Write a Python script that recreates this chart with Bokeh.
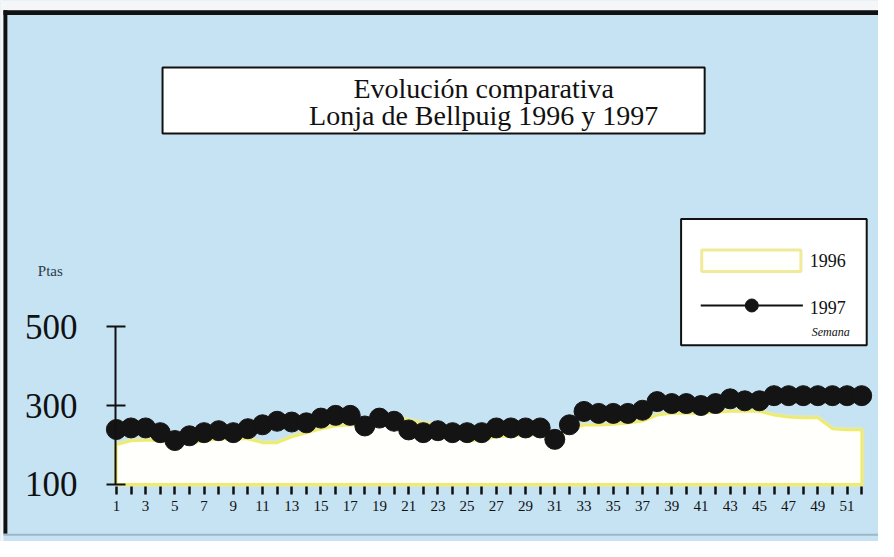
import numpy as np
from bokeh.plotting import figure
from bokeh.models import (Range1d, FixedTicker, LinearAxis, Label)
from bokeh.embed import file_html
from bokeh.resources import INLINE

# ---- data ----
weeks = list(range(1, 53))
x_tick_labels = {w: (str(w) if w % 2 == 1 else "") for w in weeks}
y_ticks = [100, 300, 500]
prices_1996 = [200, 210, 212, 210, 205, 205, 210, 215, 215, 215,
               205, 205, 220, 230, 240, 248, 250, 255, 275, 272,
               262, 255, 250, 240, 210, 212, 220, 222, 225, 225,
               215, 240, 250, 250, 252, 255, 260, 275, 280, 280,
               280, 282, 285, 285, 285, 275, 270, 268, 268, 240,
               238, 238]
prices_1997 = [239, 243, 243, 231, 211, 223, 231, 236, 231, 241,
               251, 260, 258, 256, 268, 275, 275, 248, 268, 260,
               238, 231, 236, 231, 231, 231, 243, 243, 243, 243,
               214, 251, 285, 280, 280, 280, 288, 310, 305, 305,
               300, 305, 317, 312, 312, 325, 325, 325, 325, 325,
               325, 325]
title_lines = ["Evolución comparativa", "Lonja de Bellpuig 1996 y 1997"]
series_names = ["1996", "1997"]
unit_label = "Ptas"
x_name = "Semana"

# ---- layout helpers (reference pixel -> data) ----
FIG_W, FIG_H = 878, 541
REF_W, REF_H = 894, 557
PX_X = 14.88          # reference px per week
PX_Y = 0.405          # reference px per Pta
X0_REF, Y0_REF = 118, 498   # reference pixel of week 1 / 100 Ptas


def dx(rx):
    return 1 + (rx - X0_REF) / PX_X


def dy(ry):
    return 100 + (Y0_REF - ry) / PX_Y


BG = "#c6e3f4"
INK = "#111111"
SERIF = "Liberation Serif"

p = figure(width=FIG_W, height=FIG_H, output_backend="svg", toolbar_location=None,
           x_range=Range1d(dx(0), dx(REF_W)),
           y_range=Range1d(dy(REF_H), dy(0)),
           x_axis_location=None, y_axis_location=None,
           min_border=0)
p.background_fill_color = BG
p.border_fill_color = BG
p.outline_line_color = None
p.grid.visible = False

# ---- scan surround and outer frame ----
p.quad(left=[dx(0)], right=[dx(REF_W)], top=[dy(0)], bottom=[dy(10)],
       fill_color="#f4f6f7", line_color=None)
p.quad(left=[dx(0)], right=[dx(3)], top=[dy(0)], bottom=[dy(REF_H)],
       fill_color="#f4f6f7", line_color=None)
p.quad(left=[dx(3)], right=[dx(REF_W)], top=[dy(10)], bottom=[dy(15)],
       fill_color=INK, line_color=None)
p.quad(left=[dx(3)], right=[dx(7)], top=[dy(10)], bottom=[dy(549)],
       fill_color=INK, line_color=None)
p.quad(left=[dx(3)], right=[dx(REF_W)], top=[dy(549)], bottom=[dy(551)],
       fill_color="#9fb6c4", line_color=None)

# ---- axes ----
xaxis = LinearAxis(ticker=FixedTicker(ticks=weeks),
                   major_label_overrides=x_tick_labels,
                   fixed_location=dy(500))
xaxis.axis_line_color = None
xaxis.major_tick_in = 0
xaxis.major_tick_out = 8
xaxis.major_tick_line_width = 2.5
xaxis.major_tick_line_color = INK
xaxis.minor_tick_line_color = None
xaxis.major_label_standoff = 7
xaxis.major_label_text_font = SERIF
xaxis.major_label_text_font_size = "15px"
xaxis.major_label_text_color = INK
p.add_layout(xaxis, "below")

yaxis = LinearAxis(ticker=FixedTicker(ticks=y_ticks), bounds=(100, 500),
                   fixed_location=dx(117))
yaxis.axis_line_width = 2
yaxis.axis_line_color = INK
yaxis.major_tick_in = 10
yaxis.major_tick_out = 9
yaxis.major_tick_line_width = 2
yaxis.major_tick_line_color = INK
yaxis.minor_tick_line_color = None
yaxis.major_label_standoff = 29
yaxis.major_label_text_font = SERIF
yaxis.major_label_text_font_size = "35px"
yaxis.major_label_text_color = INK
p.add_layout(yaxis, "left")

# ---- 1996 area ----
xs = [weeks[0]] + weeks + [weeks[-1]]
ys = [100] + prices_1996 + [100]
p.patch(xs, ys, fill_color="#fffff8", line_color="#f3f07a", line_width=6, line_alpha=0.45)
p.patch(xs, ys, fill_color="#fffffb", line_color="#f0ec6a", line_width=2.5)

# ---- 1997 line + dots ----
p.line(weeks, prices_1997, line_color=INK, line_width=2)
p.scatter(weeks, prices_1997, size=20, fill_color="#141414", line_color="#141414")

# ---- title box ----
p.quad(left=[dx(165)], right=[dx(717)], top=[dy(69)], bottom=[dy(137)],
       fill_color="white", line_color=INK, line_width=2)
for i, t in enumerate(title_lines):
    p.add_layout(Label(x=dx(492), y=dy(91 + 27 * i), text=t, text_align="center",
                       text_baseline="middle", text_font=SERIF, text_font_size="28px",
                       text_color=INK))

# ---- Ptas label ----
p.add_layout(Label(x=dx(38), y=dy(278), text=unit_label, text_align="left",
                   text_baseline="middle", text_font=SERIF, text_font_size="15px",
                   text_color="#2e3b48"))

# ---- legend ----
p.quad(left=[dx(693)], right=[dx(882)], top=[dy(225)], bottom=[dy(355)],
       fill_color="white", line_color=INK, line_width=2)
p.quad(left=[dx(714)], right=[dx(815)], top=[dy(257)], bottom=[dy(279)],
       fill_color="#fffffb", line_color="#efeb9a", line_width=3)
p.line([dx(713), dx(817)], [dy(314), dy(314)], line_color=INK, line_width=2)
p.scatter([dx(765)], [dy(314)], size=13, fill_color="#141414", line_color="#141414")
p.add_layout(Label(x=dx(824), y=dy(268), text=series_names[0], text_align="left",
                   text_baseline="middle", text_font=SERIF, text_font_size="18px",
                   text_color=INK))
p.add_layout(Label(x=dx(824), y=dy(316), text=series_names[1], text_align="left",
                   text_baseline="middle", text_font=SERIF, text_font_size="18px",
                   text_color=INK))
p.add_layout(Label(x=dx(826), y=dy(341), text=x_name, text_align="left",
                   text_baseline="middle", text_font=SERIF, text_font_size="12px",
                   text_font_style="italic", text_color=INK))

open("out.html", "w").write(file_html(p, INLINE))
